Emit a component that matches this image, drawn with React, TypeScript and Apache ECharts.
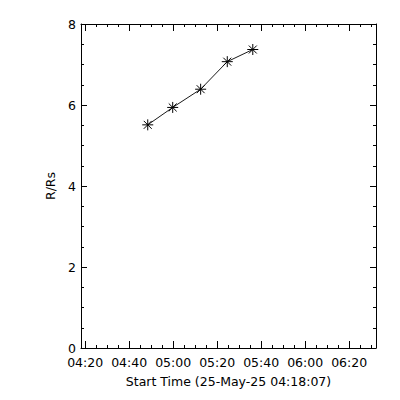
import React, { useEffect, useRef } from "react";
import * as echarts from "echarts";

// times in minutes since 00:00 of 25-May-25
const startMinutes = 258.1167; // 04:18:07
const endMinutes = 392.2;
const times = [288.45, 299.8, 312.5, 324.6, 336.2];
const radius = [5.51, 5.94, 6.39, 7.07, 7.37];
const majorTicks = [260, 280, 300, 320, 340, 360, 380];
const minorTicks = [
  265, 270, 275, 285, 290, 295, 305, 310, 315, 325, 330, 335, 345, 350, 355, 365, 370, 375, 385, 390,
];
const xTitle = "Start Time (25-May-25 04:18:07)";
const yTitle = "R/Rs";

const FONT = "DejaVu Sans";

function fmt(v: number): string {
  const h = Math.floor(v / 60);
  const m = Math.round(v - h * 60);
  return String(h).padStart(2, "0") + ":" + String(m).padStart(2, "0");
}

const asterisk =
  "path://M0,-5L0,5M-5,0L5,0M-3.6,-3.6L3.6,3.6M-3.6,3.6L3.6,-3.6";

export default function App() {
  const ref = useRef<HTMLDivElement>(null);
  useEffect(() => {
    if (!ref.current) return;
    const chart = echarts.init(ref.current, null, { renderer: "svg" });
    const lineStyle = { color: "#000", width: 1 };
    const baseX = {
      type: "value" as const,
      min: startMinutes,
      max: endMinutes,
      splitLine: { show: false },
    };
    const xAxes = [
      {
        ...baseX,
        position: "bottom",
        axisLine: { show: true, lineStyle },
        axisTick: { show: true, inside: true, length: 7, lineStyle, customValues: majorTicks },
        axisLabel: {
          show: true,
          customValues: majorTicks,
          formatter: (v: number) => fmt(v),
          color: "#000",
          fontFamily: FONT,
          fontSize: 12.5,
          margin: 8,
        },
        name: xTitle,
        nameLocation: "middle",
        nameGap: 27,
        nameTextStyle: { color: "#000", fontFamily: FONT, fontSize: 12.5 },
      },
      {
        ...baseX,
        position: "bottom",
        axisLine: { show: false },
        axisTick: { show: true, inside: true, length: 3, lineStyle, customValues: minorTicks },
        axisLabel: { show: false },
      },
      {
        ...baseX,
        position: "top",
        axisLine: { show: true, lineStyle },
        axisTick: { show: true, inside: true, length: 7, lineStyle, customValues: majorTicks },
        axisLabel: { show: false },
      },
      {
        ...baseX,
        position: "top",
        axisLine: { show: false },
        axisTick: { show: true, inside: true, length: 3, lineStyle, customValues: minorTicks },
        axisLabel: { show: false },
      },
    ];
    const baseY = {
      type: "value" as const,
      min: 0,
      max: 8,
      interval: 2,
      splitLine: { show: false },
      axisLine: { show: true, lineStyle },
      axisTick: { show: true, inside: true, length: 6, lineStyle },
      minorTick: { show: true, splitNumber: 4, length: 3, lineStyle },
    };
    const option = {
      animation: false,
      backgroundColor: "#fff",
      grid: { left: 81, top: 24, width: 295, height: 324, containLabel: false },
      xAxis: xAxes,
      yAxis: [
        {
          ...baseY,
          position: "left",
          axisLabel: { color: "#000", fontFamily: FONT, fontSize: 12.5, margin: 5 },
          name: yTitle,
          nameLocation: "middle",
          nameGap: 21,
          nameRotate: 90,
          nameTextStyle: { color: "#000", fontFamily: FONT, fontSize: 12.5 },
        },
        {
          ...baseY,
          position: "right",
          axisLabel: { show: false },
        },
      ],
      series: [
        {
          type: "line",
          xAxisIndex: 0,
          yAxisIndex: 0,
          data: times.map((t, i) => [t, radius[i]]),
          symbol: asterisk,
          symbolSize: 11,
          showAllSymbol: true,
          lineStyle: { color: "#000", width: 0.9 },
          itemStyle: { color: "none", borderColor: "#000", borderWidth: 1 },
        },
      ],
    };
    chart.setOption(option as any);
    return () => chart.dispose();
  }, []);
  return (
    <div
      ref={ref}
      style={{ position: "fixed", left: 0, top: 0, width: 400, height: 400, background: "#fff" }}
    />
  );
}
